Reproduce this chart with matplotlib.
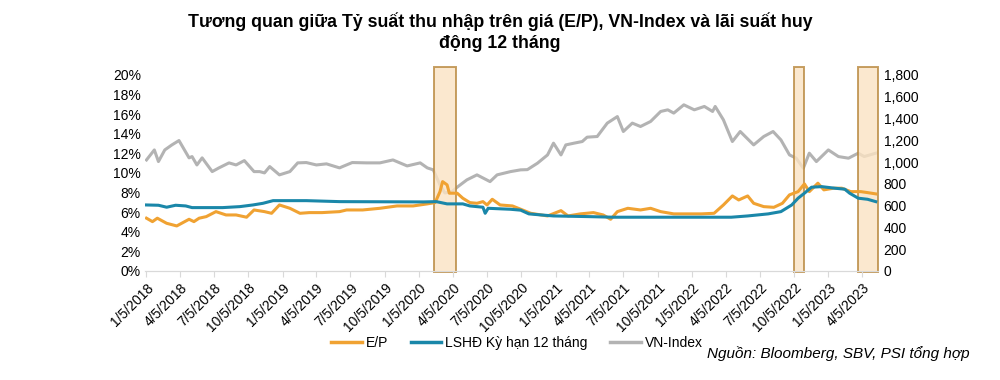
import numpy as np
import pandas as pd
import matplotlib
matplotlib.use('Agg')
import matplotlib.pyplot as plt
import matplotlib.dates as mdates
from matplotlib.patches import Rectangle
from matplotlib.ticker import FuncFormatter

plt.rcParams['font.family'] = ['Liberation Sans', 'DejaVu Sans']

# VN-Index (right axis)
vn_dates = ['2018-01-05', '2018-01-26', '2018-02-06', '2018-02-23', '2018-03-14', '2018-04-02',
            '2018-04-29', '2018-05-07', '2018-05-20', '2018-06-03', '2018-06-30', '2018-07-18',
            '2018-08-14', '2018-09-02', '2018-09-24', '2018-10-20', '2018-11-04', '2018-11-17',
            '2018-12-01', '2018-12-27', '2019-01-24', '2019-02-14', '2019-03-09', '2019-04-05',
            '2019-05-02', '2019-06-06', '2019-06-14', '2019-07-10', '2019-08-18', '2019-09-22',
            '2019-10-27', '2019-12-04', '2020-01-08', '2020-01-27', '2020-02-12', '2020-03-01',
            '2020-03-14', '2020-04-02', '2020-04-18', '2020-05-12', '2020-06-08', '2020-07-13',
            '2020-08-01', '2020-09-06', '2020-10-03', '2020-10-21', '2020-11-17', '2020-12-14',
            '2020-12-30', '2021-01-19', '2021-02-01', '2021-02-23', '2021-03-17', '2021-03-30',
            '2021-04-26', '2021-05-23', '2021-06-19', '2021-07-05', '2021-07-29', '2021-08-20',
            '2021-09-16', '2021-10-13', '2021-11-01', '2021-11-17', '2021-12-14', '2022-01-11',
            '2022-02-07', '2022-03-01', '2022-03-08', '2022-03-30', '2022-04-23', '2022-05-14',
            '2022-06-19', '2022-07-16', '2022-08-10', '2022-08-31', '2022-09-23', '2022-10-11',
            '2022-10-30', '2022-11-15', '2022-12-04', '2023-01-05', '2023-02-01', '2023-02-28',
            '2023-03-26', '2023-04-11', '2023-05-12']
vn_index = [1019, 1111, 1004, 1111, 1157, 1197,
            1038, 1050, 973, 1038, 912, 946,
            992, 973, 1013, 912, 912, 900,
            958, 882, 912, 992, 995, 973,
            983, 946, 958, 995, 992, 992,
            1019, 964, 992, 946, 928, 790,
            716, 728, 774, 836, 882, 820,
            882, 912, 928, 930, 989, 1065,
            1173, 1065, 1157, 1173, 1188, 1228,
            1234, 1357, 1417, 1280, 1357, 1326,
            1372, 1464, 1479, 1449, 1525, 1479,
            1510, 1464, 1510, 1387, 1188, 1280,
            1157, 1234, 1280, 1203, 1065, 1035,
            943, 1081, 1004, 1111, 1050, 1035,
            1081, 1050, 1081]

# E/P (%)
ep_dates = ['2018-01-05', '2018-01-21', '2018-02-03', '2018-02-28', '2018-03-27', '2018-04-29',
            '2018-05-12', '2018-05-26', '2018-06-14', '2018-07-10', '2018-08-06', '2018-09-02',
            '2018-09-30', '2018-10-20', '2018-11-17', '2018-12-06', '2018-12-27', '2019-01-24',
            '2019-02-20', '2019-03-17', '2019-04-20', '2019-06-06', '2019-06-25', '2019-08-07',
            '2019-09-22', '2019-11-07', '2019-12-20', '2020-01-27', '2020-02-17', '2020-03-01',
            '2020-03-08', '2020-03-20', '2020-03-26', '2020-04-16', '2020-05-01', '2020-05-20',
            '2020-06-08', '2020-06-24', '2020-07-05', '2020-07-19', '2020-08-09', '2020-09-11',
            '2020-10-08', '2020-10-30', '2020-12-14', '2021-01-19', '2021-02-07', '2021-03-12',
            '2021-04-16', '2021-05-12', '2021-06-01', '2021-06-19', '2021-07-17', '2021-08-20',
            '2021-09-16', '2021-10-13', '2021-11-17', '2021-12-26', '2022-01-30', '2022-03-05',
            '2022-03-30', '2022-04-23', '2022-05-10', '2022-06-03', '2022-06-19', '2022-07-16',
            '2022-08-12', '2022-09-04', '2022-09-23', '2022-10-16', '2022-11-02', '2022-11-15',
            '2022-12-08', '2022-12-24', '2023-01-19', '2023-02-10', '2023-03-06', '2023-04-02',
            '2023-04-20', '2023-05-12']
ep = [5.38, 5.03, 5.38, 4.86, 4.59, 5.27,
      5.03, 5.38, 5.54, 6.05, 5.71, 5.71,
      5.48, 6.22, 6.05, 5.88, 6.73, 6.39,
      5.88, 5.95, 5.95, 6.05, 6.22, 6.22,
      6.39, 6.63, 6.63, 6.84, 6.97, 8.09,
      9.11, 8.78, 7.93, 7.93, 7.42, 6.97,
      6.90, 7.07, 6.73, 7.31, 6.73, 6.63,
      6.22, 5.88, 5.61, 6.15, 5.61, 5.82,
      5.95, 5.71, 5.27, 6.05, 6.39, 6.22,
      6.39, 6.05, 5.82, 5.82, 5.82, 5.88,
      6.73, 7.65, 7.24, 7.65, 6.90, 6.56,
      6.49, 6.90, 7.76, 8.09, 8.88, 8.09,
      8.95, 8.27, 8.44, 8.44, 8.09, 8.09,
      7.99, 7.86]

# LSHD 12 thang (%)
ls_dates = ['2018-01-05', '2018-02-06', '2018-02-28', '2018-03-24', '2018-04-20', '2018-05-07',
            '2018-07-28', '2018-09-12', '2018-10-17', '2018-11-13', '2018-12-10', '2019-03-09',
            '2019-06-06', '2020-01-17', '2020-02-20', '2020-03-20', '2020-05-01', '2020-05-20',
            '2020-06-24', '2020-06-30', '2020-07-08', '2020-09-06', '2020-10-03', '2020-10-25',
            '2020-11-27', '2020-12-30', '2021-04-05', '2021-06-08', '2022-04-20', '2022-06-03',
            '2022-07-28', '2022-08-31', '2022-09-29', '2022-10-16', '2022-11-02', '2022-11-21',
            '2022-12-18', '2023-01-22', '2023-02-18', '2023-03-03', '2023-03-26', '2023-04-20',
            '2023-05-12']
lshd = [6.73, 6.70, 6.50, 6.70, 6.63, 6.46,
        6.46, 6.56, 6.73, 6.90, 7.17, 7.17,
        7.07, 7.04, 7.07, 6.84, 6.84, 6.63,
        6.50, 5.88, 6.39, 6.29, 6.20, 5.82,
        5.71, 5.61, 5.54, 5.48, 5.48, 5.61,
        5.82, 6.05, 6.73, 7.42, 7.93, 8.54,
        8.60, 8.44, 8.34, 7.93, 7.42, 7.31,
        7.07]

# highlighted periods
box_start = ['2020-02-15', '2022-10-05', '2023-03-25']
box_end = ['2020-04-13', '2022-11-02', '2023-05-17']

tick_dates = pd.to_datetime(['%d-%02d-05' % (y, m) for y in range(2018, 2024)
                             for m in (1, 4, 7, 10)][:22])

c_ep = '#f0a232'
c_ls = '#1a87a9'
c_vn = '#b3b3b3'

fig = plt.figure(figsize=(10, 3.8), dpi=100)
ax = fig.add_axes([0.145, 0.287, 0.733, 0.516])
ax2 = ax.twinx()

ax.plot(pd.to_datetime(ep_dates), np.array(ep) / 100, color=c_ep, lw=2.2, zorder=3)
ax.plot(pd.to_datetime(ls_dates), np.array(lshd) / 100, color=c_ls, lw=2.2, zorder=3)
ax2.plot(pd.to_datetime(vn_dates), vn_index, color=c_vn, lw=2.2)

for s, e in zip(box_start, box_end):
    x0 = mdates.date2num(pd.Timestamp(s))
    x1 = mdates.date2num(pd.Timestamp(e))
    r = Rectangle((x0, -0.005), x1 - x0, 1.045, transform=ax.get_xaxis_transform(),
                  facecolor='#fbe3c3', edgecolor='#b8873c', lw=1.4, alpha=0.8,
                  clip_on=False, zorder=1)
    ax.add_patch(r)

ax.set_zorder(ax2.get_zorder() + 1)
ax.patch.set_visible(False)

ax.set_xlim(pd.Timestamp('2018-01-01'), pd.Timestamp('2023-05-18'))
ax.set_ylim(0, 0.2)
ax2.set_ylim(0, 1800)
ax.set_yticks(np.arange(0, 0.21, 0.02))
ax.yaxis.set_major_formatter(FuncFormatter(lambda v, p: '%d%%' % round(v * 100)))
ax2.set_yticks(np.arange(0, 1801, 200))
ax2.yaxis.set_major_formatter(FuncFormatter(lambda v, p: '{:,.0f}'.format(v)))

ax.set_xticks(tick_dates)
ax.set_xticklabels(['%d/%d/%d' % (d.month, d.day, d.year) for d in tick_dates],
                   rotation=45, ha='right', rotation_mode='anchor', fontsize=10)

for a in (ax, ax2):
    for sp in ('top', 'left', 'right'):
        a.spines[sp].set_visible(False)
    a.spines['bottom'].set_color('#d9d9d9')
    a.tick_params(axis='y', length=0, labelsize=10, pad=3)
ax.tick_params(axis='x', length=4, color='#d9d9d9', pad=3)
ax2.tick_params(axis='y', pad=4)

fig.text(0.5, 1 - 12 / 380, 'Tương quan giữa Tỷ suất thu nhập trên giá (E/P), VN-Index và lãi suất huy\nđộng 12 tháng',
         ha='center', va='top', fontsize=12.8, fontweight='bold', linespacing=1.35)

handles = [plt.Line2D([], [], color=c_ep, lw=2.5),
           plt.Line2D([], [], color=c_ls, lw=2.5),
           plt.Line2D([], [], color=c_vn, lw=2.5)]
fig.legend(handles, ['E/P', 'LSHĐ Kỳ hạn 12 tháng', 'VN-Index'], loc='center',
           bbox_to_anchor=(0.517, 0.097), ncol=3, frameon=False, fontsize=10,
           handlelength=2.2, handletextpad=0.3, columnspacing=1.6)

fig.text(0.97, 0.07, 'Nguồn: Bloomberg, SBV, PSI tổng hợp', ha='right', va='center',
         fontsize=11, style='italic')

fig.savefig('out.png', dpi=100)
